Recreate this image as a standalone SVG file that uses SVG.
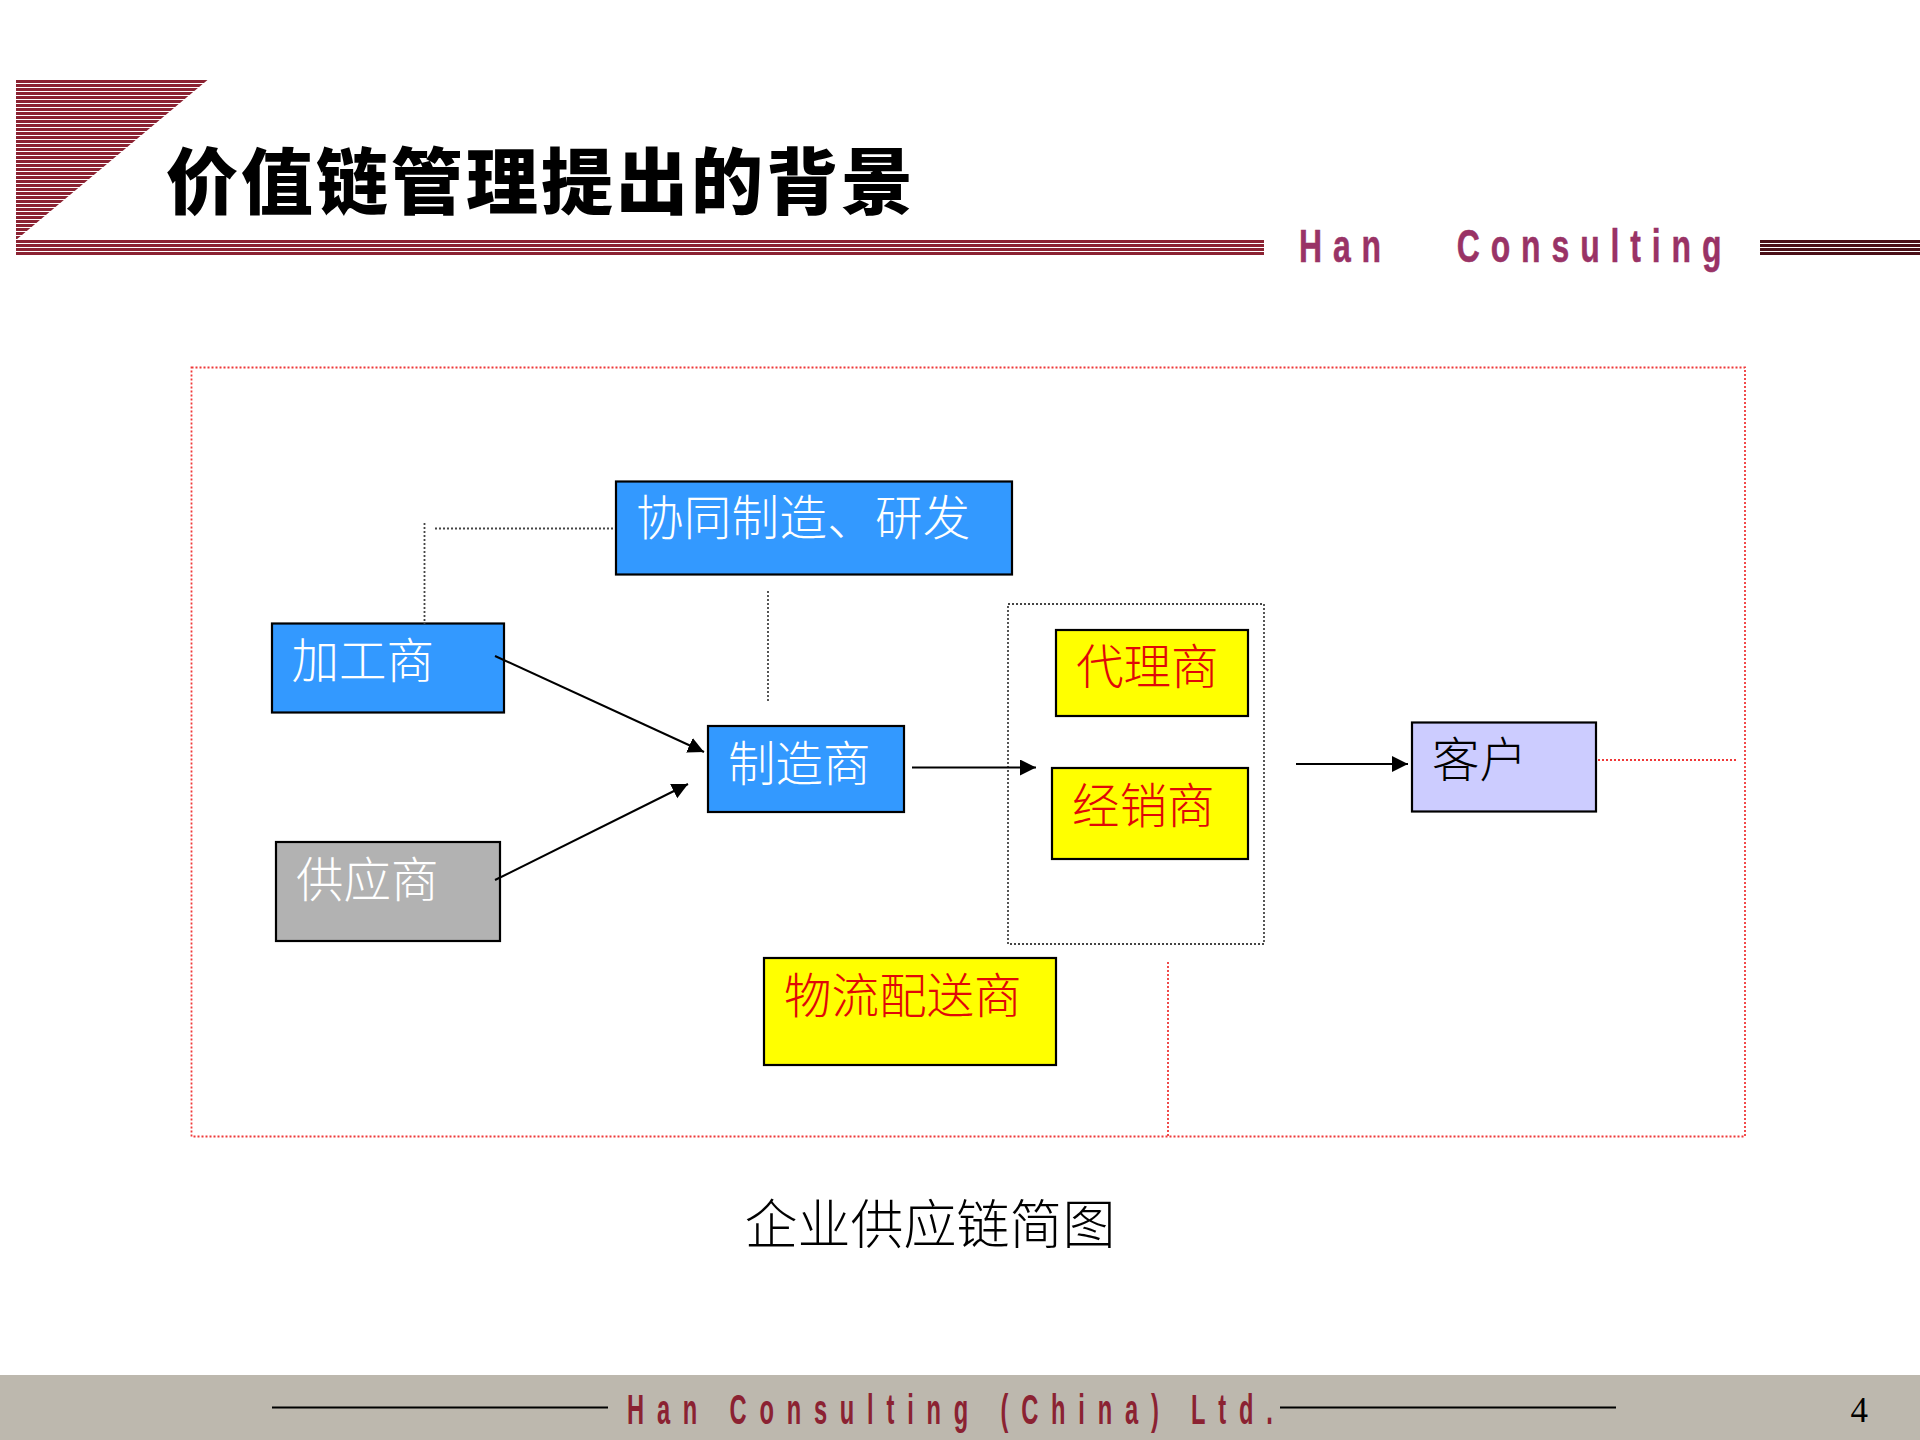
<svg xmlns="http://www.w3.org/2000/svg" width="1920" height="1440" viewBox="0 0 1920 1440">
<style>
.box{stroke:#000;stroke-width:2.2}
.blue{fill:#3399FF}.gray{fill:#B2B2B2}.yellow{fill:#FFFF00}.lilac{fill:#CCCCFF}
.t{font-family:"Noto Sans CJK SC",sans-serif;font-size:47.5px;font-weight:300}
.w{fill:#fff}.r{fill:#E00808}.k{fill:#000}
.dot{fill:none;stroke:#444;stroke-width:1.8;stroke-dasharray:2 2}
.rdot{fill:none;stroke:#F03838;stroke-width:1.8;stroke-dasharray:2 2}
.arrow{fill:none;stroke:#000;stroke-width:2;marker-end:url(#head)}
.cond{font-family:"Liberation Sans Narrow","Liberation Sans",sans-serif;font-weight:700}
</style>
<defs>
<pattern id="red" patternUnits="userSpaceOnUse" x="0" y="80" width="8" height="4"><rect width="8" height="3" fill="#8B2232"/></pattern>
<pattern id="dark" patternUnits="userSpaceOnUse" x="0" y="80" width="8" height="4"><rect width="8" height="3" fill="#4A1018"/></pattern>
<marker id="head" markerUnits="userSpaceOnUse" markerWidth="18" markerHeight="18" refX="16" refY="8" orient="auto"><path d="M0 0L16 8L0 16Z" fill="#000"/></marker>
</defs>
<rect width="1920" height="1440" fill="#fff"/>
<g id="header">
<path d="M16 80H207.5L16 240Z" fill="url(#red)"/>
<rect x="16" y="240" width="1248" height="16" fill="url(#red)"/>
<rect x="1760" y="240" width="160" height="16" fill="url(#dark)"/>
<text x="166" y="208" font-family="Noto Sans CJK SC,sans-serif" font-weight="900" font-size="72" letter-spacing="3" fill="#000">价值链管理提出的背景</text>
<text class="cond" transform="translate(1299,262) scale(.68,1)" font-size="47" letter-spacing="16" stroke="#993366" stroke-width=".5" fill="#993366">Han<tspan x="232">Consulting</tspan></text>
</g>
<g id="frame">
<rect class="rdot" x="191.500" y="367.500" width="1553.500" height="769"/>
</g>
<g id="group-channel"><rect class="dot" x="1008" y="604" width="256" height="340"/></g>
<g id="node-cooperate"><rect class="box blue" x="616" y="481.500" width="396" height="93"/><text class="t w" x="636" y="535" letter-spacing=".3">协同制造、研发</text></g>
<g id="node-processor"><rect class="box blue" x="272" y="623.500" width="232" height="89"/><text class="t w" x="291.500" y="678">加工商</text></g>
<g id="node-supplier"><rect class="box gray" x="276" y="842" width="224" height="99"/><text class="t w" x="296" y="897">供应商</text></g>
<g id="node-maker"><rect class="box blue" x="708" y="726" width="196" height="86"/><text class="t w" x="728" y="781">制造商</text></g>
<g id="node-agent"><rect class="box yellow" x="1056" y="630" width="192" height="86"/><text class="t r" x="1076" y="684">代理商</text></g>
<g id="node-dealer"><rect class="box yellow" x="1052" y="768" width="196" height="91"/><text class="t r" x="1072" y="823">经销商</text></g>
<g id="node-logistics"><rect class="box yellow" x="764" y="958" width="292" height="107"/><text class="t r" x="784" y="1013">物流配送商</text></g>
<g id="node-customer"><rect class="box lilac" x="1412" y="722.500" width="184" height="89"/><text class="t k" x="1432" y="777">客户</text></g>
<g id="connectors">
<path class="dot" d="M424.500 523V624"/>
<path class="dot" d="M435 528.500H613"/>
<path class="dot" d="M768 591V701"/>
<path class="rdot" d="M1168 962V1136"/>
<path class="rdot" d="M1598 760H1736"/>
<path class="arrow" d="M495 656L704 752"/>
<path class="arrow" d="M495 880L688 784"/>
<path class="arrow" d="M912 767.500H1036"/>
<path class="arrow" d="M1296 764H1408"/>
</g>
<text x="930" y="1244" text-anchor="middle" font-family="Noto Sans CJK SC,sans-serif" font-size="53" font-weight="300" fill="#000">企业供应链简图</text>
<g id="footer">
<rect x="0" y="1375" width="1920" height="65" fill="#BDB8AE"/>
<path d="M272 1407.500H608M1280 1407.500H1616" stroke="#000" stroke-width="2"/>
<text class="cond" transform="translate(627,1424) scale(.55,1)" font-size="43" letter-spacing="23.300" fill="#8B2232">Han Consulting (China) Ltd.</text>
<text x="1850.500" y="1422" font-family="Liberation Serif,serif" font-size="35" fill="#000">4</text>
</g>
</svg>
